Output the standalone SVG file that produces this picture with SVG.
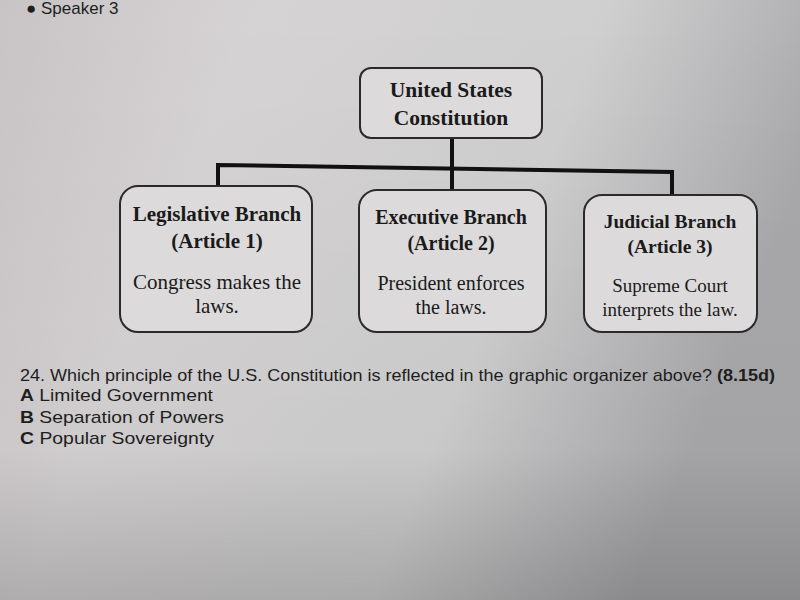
<svg xmlns="http://www.w3.org/2000/svg" width="800" height="600" viewBox="0 0 800 600">
<defs>
<linearGradient id="bg" x1="0" y1="0" x2="1" y2="0.3">
<stop offset="0" stop-color="#c8c4c6"/>
<stop offset="0.3" stop-color="#d6d3d4"/>
<stop offset="0.7" stop-color="#cfcfd0"/>
<stop offset="1" stop-color="#a9a9ab"/>
</linearGradient>
<linearGradient id="shade" x1="0" y1="0" x2="0" y2="1">
<stop offset="0" stop-color="#000" stop-opacity="0"/>
<stop offset="0.75" stop-color="#000" stop-opacity="0.03"/>
<stop offset="1" stop-color="#000" stop-opacity="0.18"/>
</linearGradient>
<style>
.box{fill:#dcdadb;stroke:#2a2a2a;stroke-width:2}
.t{font-family:"Liberation Serif","Times New Roman",serif;fill:#1a1a1a;text-anchor:middle}
.b{font-weight:bold}
.c{fill:none;stroke:#111;stroke-width:4;stroke-linecap:square}
.q{font-family:"Liberation Sans",Arial,sans-serif;fill:#1e1e1e;font-size:17px}
</style>
</defs>
<rect width="800" height="600" fill="url(#bg)"/>
<rect width="800" height="600" fill="url(#shade)"/>
<text x="26" y="14" class="q" font-size="13">● Speaker 3</text>
<g id="connectors">
<path class="c" d="M452,138 V189"/>
<path class="c" d="M218,187 V165 L672,172 V196"/>
</g>
<g id="constitution">
<rect class="box" x="360" y="68" width="182" height="70" rx="11"/>
<text class="t b" x="451" y="97" font-size="21.5">United States</text>
<text class="t b" x="451" y="125" font-size="21.5">Constitution</text>
</g>
<g id="legislative">
<rect class="box" x="120" y="186" width="192" height="146" rx="18"/>
<text class="t b" x="217" y="221" font-size="21">Legislative Branch</text>
<text class="t b" x="217" y="248" font-size="21">(Article 1)</text>
<text class="t" x="217" y="289" font-size="21">Congress makes the</text>
<text class="t" x="217" y="313" font-size="21">laws.</text>
</g>
<g id="executive">
<rect class="box" x="359" y="190" width="187" height="142" rx="18"/>
<text class="t b" x="451" y="224" font-size="20">Executive Branch</text>
<text class="t b" x="451" y="250" font-size="20">(Article 2)</text>
<text class="t" x="451" y="290" font-size="20">President enforces</text>
<text class="t" x="451" y="314" font-size="20">the laws.</text>
</g>
<g id="judicial">
<rect class="box" x="584" y="195" width="173" height="137" rx="18"/>
<text class="t b" x="670" y="228" font-size="19.5">Judicial Branch</text>
<text class="t b" x="670" y="253" font-size="19.5">(Article 3)</text>
<text class="t" x="670" y="292" font-size="19">Supreme Court</text>
<text class="t" x="670" y="316" font-size="19">interprets the law.</text>
</g>
<text class="q" x="20" y="381" textLength="755" lengthAdjust="spacingAndGlyphs">24. Which principle of the U.S. Constitution is reflected in the graphic organizer above? <tspan font-weight="bold">(8.15d)</tspan></text>
<text class="q" x="20" y="401" textLength="193" lengthAdjust="spacingAndGlyphs"><tspan font-weight="bold">A</tspan> Limited Government</text>
<text class="q" x="20" y="423" textLength="204" lengthAdjust="spacingAndGlyphs"><tspan font-weight="bold">B</tspan> Separation of Powers</text>
<text class="q" x="20" y="444" textLength="194" lengthAdjust="spacingAndGlyphs"><tspan font-weight="bold">C</tspan> Popular Sovereignty</text>
</svg>
